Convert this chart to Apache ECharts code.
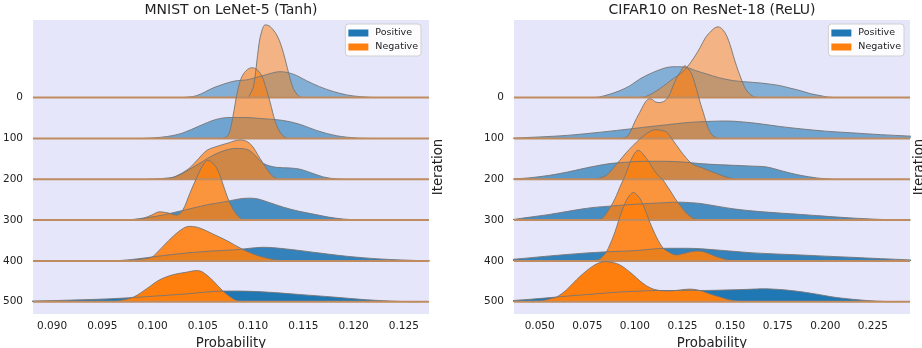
<!DOCTYPE html>
<html>
<head>
<meta charset="utf-8">
<script src="https://cdn.jsdelivr.net/npm/echarts@6/dist/echarts.min.js"></script>
<style>
html, body { margin: 0; padding: 0; background: #fff; }
#chart { width: 922px; height: 348px; }
</style>
</head>
<body>
<div id="chart"></div>
<script>
// ridges (one per iteration), top to bottom
const iterations = [0, 100, 200, 300, 400, 500];

// tick labels of the probability axes
const mnistTicks = [0.090, 0.095, 0.100, 0.105, 0.110, 0.115, 0.120, 0.125];
const cifarTicks = [0.050, 0.075, 0.100, 0.125, 0.150, 0.175, 0.200, 0.225];

// densities: [probability, height], 41 = one ridge step
const mnistPositive = [
    [[0.1030,0],[0.1044,2],[0.1061,10],[0.1081,16.5],[0.1095,18],[0.1113,23],[0.1127,26],[0.1140,23.5],[0.1153,17],[0.1166,11],[0.1180,6],[0.1193,2.7],[0.1206,1],[0.1220,0]],
    [[0.0990,0],[0.1000,0.5],[0.1015,2],[0.1030,5.5],[0.1047,12.7],[0.1063,19],[0.1077,21],[0.1092,21],[0.1107,20],[0.1130,18],[0.1147,14],[0.1163,8],[0.1183,2.7],[0.1203,0.4],[0.1215,0]],
    [[0.0995,0],[0.1010,0.8],[0.1024,3],[0.1040,12],[0.1050,18],[0.1060,24],[0.1072,29],[0.1083,31],[0.1095,29.5],[0.1103,23],[0.1110,16],[0.1123,12],[0.1137,11.3],[0.1147,10],[0.1157,6.7],[0.1170,2.3],[0.1183,0.3],[0.1190,0]],
    [[0.0975,0],[0.0995,2.5],[0.1010,5],[0.1025,8.5],[0.1040,12],[0.1055,15.5],[0.1070,18],[0.1085,21],[0.1095,22],[0.1102,21.7],[0.1115,18],[0.1130,13],[0.1145,9],[0.1160,6],[0.1175,3],[0.1190,1],[0.1205,0.2],[0.1212,0]],
    [[0.0962,0],[0.0980,1.5],[0.1000,4],[0.1020,6.5],[0.1040,8.5],[0.1060,10],[0.1080,11],[0.1095,12.5],[0.1110,13.7],[0.1133,12],[0.1160,8.7],[0.1193,4.7],[0.1226,2],[0.1260,0.5],[0.1280,0]],
    [[0.0860,0.3],[0.0881,0.7],[0.0931,2],[0.0964,3.3],[0.1000,5.5],[0.1035,8],[0.1070,10.7],[0.1087,10.7],[0.1113,9.7],[0.1146,7.3],[0.1180,4.7],[0.1213,2],[0.1246,0.3],[0.1265,0]]
];
const mnistNegative = [
    [[0.1095,0],[0.1100,10],[0.1103,30],[0.1106,55],[0.1109,68],[0.1112,73],[0.1116,72],[0.1120,68],[0.1124,62],[0.1128,52],[0.1132,38],[0.1136,22],[0.1140,9],[0.1144,3],[0.1148,0]],
    [[0.1070,0],[0.1075,3],[0.1078,12],[0.1081,28],[0.1084,45],[0.1088,60],[0.1093,68],[0.1099,71],[0.1104,69],[0.1109,62],[0.1113,50],[0.1117,36],[0.1122,17],[0.1127,6],[0.1132,1],[0.1136,0]],
    [[0.1010,0],[0.1017,0.7],[0.1027,5],[0.1037,11.5],[0.1046,21],[0.1054,29],[0.1064,33],[0.1074,36],[0.1087,39.5],[0.1097,35.7],[0.1107,20.7],[0.1117,5.7],[0.1123,0.7],[0.1128,0]],
    [[0.0980,0],[0.0990,1.5],[0.0999,5],[0.1007,8.3],[0.1016,7],[0.1024,5],[0.1030,10],[0.1037,26.7],[0.1044,43],[0.1050,55],[0.1055,60],[0.1060,57],[0.1065,50],[0.1072,30],[0.1077,16.7],[0.1084,5],[0.1090,0]],
    [[0.0975,0],[0.0981,1],[0.0990,2],[0.0999,3.7],[0.1005,9],[0.1011,15.3],[0.1021,25.3],[0.1031,33],[0.1037,34.7],[0.1047,33],[0.1060,27],[0.1074,20.3],[0.1087,13],[0.1100,7],[0.1113,3],[0.1127,0.3],[0.1132,0]],
    [[0.0960,0],[0.0964,0.5],[0.0981,4.7],[0.0994,13],[0.1007,22],[0.1021,27.3],[0.1034,29.7],[0.1044,31.3],[0.1050,29.7],[0.1060,21.3],[0.1070,10.7],[0.1080,3],[0.1087,0.3],[0.1092,0]]
];
const cifarPositive = [
    [[0.0780,0],[0.0815,0.7],[0.0870,3.5],[0.0921,7],[0.0975,12],[0.1026,18.7],[0.1080,24],[0.1131,28],[0.1175,30.5],[0.1219,31],[0.1272,30.3],[0.1320,27],[0.1377,23.7],[0.1440,20],[0.1517,17],[0.1590,15.7],[0.1657,14.7],[0.1710,13.5],[0.1762,12],[0.1815,9.5],[0.1868,7],[0.1920,4],[0.1973,2],[0.2010,0.7],[0.2050,0]],
    [[0.0350,0.2],[0.0365,0.3],[0.0500,1.5],[0.0641,3],[0.0780,5.5],[0.0904,8],[0.1040,11],[0.1167,13.7],[0.1280,16],[0.1377,17],[0.1482,17.5],[0.1570,16.5],[0.1657,14.7],[0.1760,12],[0.1868,9.7],[0.2000,7.3],[0.2131,5.7],[0.2290,3.8],[0.2446,2.3],[0.2470,2]],
    [[0.0350,0.2],[0.0365,0.3],[0.0450,1.5],[0.0553,4],[0.0640,7],[0.0728,10.7],[0.0800,13.5],[0.0868,15.7],[0.0950,17],[0.1044,18],[0.1150,18],[0.1254,17.3],[0.1342,15.7],[0.1430,14.7],[0.1517,14],[0.1600,13.3],[0.1693,12.3],[0.1760,9],[0.1820,6],[0.1868,4],[0.1956,1.3],[0.2040,0]],
    [[0.0340,0],[0.0365,0.7],[0.0450,3],[0.0553,5.7],[0.0640,8.5],[0.0728,11.3],[0.0800,13],[0.0868,14],[0.0970,15.5],[0.1079,16.7],[0.1160,17.5],[0.1237,18],[0.1290,17.5],[0.1342,16.7],[0.1430,14],[0.1517,11.3],[0.1600,9.5],[0.1693,8],[0.1780,6.8],[0.1868,5.7],[0.1955,4.5],[0.2043,3.3],[0.2130,2.2],[0.2219,1.3],[0.2300,0.6],[0.2394,0.3],[0.2450,0]],
    [[0.0340,1.5],[0.0365,1.7],[0.0553,5],[0.0728,7.7],[0.0860,9.2],[0.1000,10.3],[0.1167,12.7],[0.1272,12.7],[0.1430,11],[0.1605,8.3],[0.1740,7],[0.1868,6],[0.2000,4.8],[0.2131,3.7],[0.2290,2.3],[0.2446,1],[0.2470,0.8]],
    [[0.0340,1],[0.0365,1.3],[0.0465,2.7],[0.0588,4.7],[0.0700,6.5],[0.0800,8],[0.0900,9.5],[0.1000,10.5],[0.1131,11.3],[0.1240,11.3],[0.1342,11.3],[0.1517,12],[0.1600,12.5],[0.1675,13],[0.1760,12.3],[0.1833,11],[0.1900,9.3],[0.1973,7],[0.2050,4.5],[0.2131,2.7],[0.2220,1.2],[0.2306,0.3],[0.2380,0]]
];
const cifarNegative = [
    [[0.1000,0],[0.1044,0.5],[0.1090,4],[0.1131,9],[0.1167,14],[0.1201,19],[0.1240,24],[0.1272,30],[0.1310,40],[0.1342,50],[0.1370,60],[0.1394,65.5],[0.1420,70],[0.1438,71],[0.1460,68.5],[0.1482,62],[0.1500,53],[0.1517,42],[0.1535,31],[0.1552,22],[0.1575,11],[0.1596,5],[0.1620,1.3],[0.1645,0]],
    [[0.0930,0],[0.0956,1.5],[0.0975,6],[0.0991,13],[0.1008,20],[0.1026,26.3],[0.1044,33],[0.1061,38],[0.1075,39.7],[0.1087,39.5],[0.1110,36.5],[0.1131,36],[0.1150,37],[0.1167,39.5],[0.1185,45],[0.1201,53],[0.1220,61],[0.1237,66.3],[0.1263,73],[0.1280,70],[0.1298,64.7],[0.1315,55],[0.1333,43],[0.1346,34],[0.1359,26.3],[0.1373,17],[0.1386,9.7],[0.1403,4],[0.1421,1.3],[0.1440,0]],
    [[0.0790,0],[0.0820,1.5],[0.0851,4],[0.0886,11],[0.0921,19],[0.0956,27],[0.0991,34],[0.1026,40.5],[0.1061,45.7],[0.1090,49],[0.1114,49.7],[0.1140,49],[0.1167,47.3],[0.1193,41],[0.1219,34],[0.1254,25],[0.1289,17.3],[0.1315,14],[0.1342,12.3],[0.1385,9],[0.1430,5.7],[0.1475,2.5],[0.1517,0.5],[0.1540,0]],
    [[0.0800,0],[0.0816,0.5],[0.0833,2.5],[0.0851,7],[0.0868,12],[0.0886,18],[0.0904,25],[0.0921,33],[0.0940,41],[0.0956,48],[0.0975,58],[0.0995,66],[0.1017,70],[0.1040,67],[0.1060,62],[0.1079,57],[0.1100,50],[0.1131,43],[0.1149,40],[0.1166,35],[0.1184,30],[0.1210,22],[0.1237,15],[0.1263,8.5],[0.1289,4],[0.1315,1.2],[0.1342,0.3],[0.1360,0]],
    [[0.0760,0],[0.0781,0.3],[0.0800,1],[0.0816,2],[0.0833,5],[0.0851,9.3],[0.0868,16],[0.0886,24.3],[0.0904,34],[0.0921,44.3],[0.0938,53],[0.0956,61],[0.0975,66.5],[0.0991,68.7],[0.1008,67],[0.1026,62.7],[0.1044,56],[0.1061,47.7],[0.1078,39],[0.1096,31],[0.1113,24],[0.1131,17.7],[0.1150,12.5],[0.1175,9.3],[0.1197,7],[0.1219,6],[0.1245,7],[0.1272,8.3],[0.1300,9.5],[0.1333,10],[0.1365,9],[0.1394,7],[0.1425,4.5],[0.1455,2.7],[0.1490,1],[0.1517,0]],
    [[0.0460,0],[0.0490,0.5],[0.0518,1.3],[0.0555,3],[0.0588,4.7],[0.0615,8],[0.0641,12],[0.0675,18.5],[0.0711,25.3],[0.0745,31],[0.0781,36],[0.0815,39.3],[0.0851,40.3],[0.0886,39.3],[0.0921,37],[0.0956,32.5],[0.0991,27],[0.1026,21],[0.1061,16],[0.1096,12.7],[0.1131,11.3],[0.1166,10.8],[0.1201,11],[0.1245,12],[0.1289,12.7],[0.1325,12],[0.1359,10.3],[0.1400,7.5],[0.1447,4.7],[0.1490,2.2],[0.1534,0.7],[0.1570,0]]
];

const RIDGE = 41;
const FONT = 'DejaVu Sans';
const TEXT = '#222';
const xRanges = [[0.0881, 0.1275], [0.0365, 0.2445]];

function tickFormatter(ticks) {
    return v => {
        const t = ticks.find(t => Math.abs(t - v) < 1e-7);
        return t === undefined ? '' : t.toFixed(3);
    };
}

function ridgeSeries(panel, pos, neg) {
    const out = [];
    iterations.forEach((it, i) => {
        const alpha = 0.5 + 0.1 * i;
        [[pos[i], '31,119,180', 'Positive'], [neg[i], '255,127,14', 'Negative']].forEach(([curve, rgb, name]) => {
            out.push({
                type: 'line', name: name,
                xAxisIndex: panel, yAxisIndex: panel,
                data: curve.map(p => [p[0], -i + p[1] / RIDGE]),
                smooth: 0.35, symbol: 'none', silent: true,
                lineStyle: { color: 'rgba(118,118,118,0.9)', width: 1 },
                areaStyle: { color: 'rgba(' + rgb + ',' + alpha + ')', origin: -i, opacity: 1 }
            });
        });
        // baseline of the ridge
        out.push({
            type: 'line', xAxisIndex: panel, yAxisIndex: panel,
            data: [[xRanges[panel][0], -i], [xRanges[panel][1], -i]],
            symbol: 'none', silent: true,
            lineStyle: { color: '#bf8b5f', width: 2 }
        });
    });
    return out;
}

const legendData = [
    { name: 'Positive', itemStyle: { color: '#1f77b4', borderWidth: 0 } },
    { name: 'Negative', itemStyle: { color: '#ff7f0e', borderWidth: 0 } }
];
function legend(right) {
    return {
        data: legendData, orient: 'vertical', right: right, top: 24,
        icon: 'rect', itemWidth: 20, itemHeight: 7, itemGap: 4,
        selectedMode: false,
        padding: [4, 3, 4, 3],
        backgroundColor: 'rgba(255,255,255,0.85)',
        borderColor: '#d0d0d0', borderWidth: 1, borderRadius: 3,
        textStyle: { fontFamily: FONT, fontSize: 9.5, color: TEXT, lineHeight: 10, padding: [0, 0, 0, 2] }
    };
}

function xAxis(panel, ticks, interval) {
    return {
        type: 'value', gridIndex: panel,
        min: xRanges[panel][0], max: xRanges[panel][1], interval: interval,
        name: 'Probability', nameLocation: 'middle', nameGap: 18,
        nameTextStyle: { fontFamily: FONT, fontSize: 13.3, color: TEXT },
        axisLine: { show: false }, axisTick: { show: false }, splitLine: { show: false },
        axisLabel: { fontFamily: FONT, fontSize: 10.5, color: TEXT, margin: 7, formatter: tickFormatter(ticks) }
    };
}

function yAxis(panel) {
    return {
        type: 'value', gridIndex: panel,
        min: -5.3, max: 1.9, interval: 0.1,
        axisLine: { show: false }, axisTick: { show: false }, splitLine: { show: false },
        axisLabel: {
            fontFamily: FONT, fontSize: 10.5, color: TEXT, margin: 10,
            formatter: v => {
                const k = Math.round(-v);
                return (Math.abs(v + k) < 1e-6 && k >= 0 && k < iterations.length) ? String(iterations[k]) : '';
            }
        }
    };
}

function label(x, y, text, size, rot) {
    return {
        type: 'text', x: x, y: y, rotation: rot || 0, silent: true,
        style: {
            text: text, font: size + 'px "' + FONT + '"', fill: TEXT,
            align: 'center', verticalAlign: 'middle',
            textAlign: 'center', textVerticalAlign: 'middle'
        }
    };
}

const gridBase = { top: 20, width: 396, height: 294, show: true, backgroundColor: '#e6e6fa', borderWidth: 0, containLabel: false, outerBoundsMode: 'none' };

const chart = echarts.init(document.getElementById('chart'));
chart.setOption({
    animation: false,
    grid: [
        Object.assign({ left: 33 }, gridBase),
        Object.assign({ left: 514 }, gridBase)
    ],
    xAxis: [xAxis(0, mnistTicks, 0.0001), xAxis(1, cifarTicks, 0.0005)],
    yAxis: [yAxis(0), yAxis(1)],
    legend: [legend(501), legend(18)],
    graphic: [
        label(231, 10, 'MNIST on LeNet-5 (Tanh)', 14),
        label(712, 10, 'CIFAR10 on ResNet-18 (ReLU)', 14),
        label(439, 167, 'Iteration', 13.3, Math.PI / 2),
        label(920, 167, 'Iteration', 13.3, Math.PI / 2)
    ],
    series: ridgeSeries(0, mnistPositive, mnistNegative).concat(ridgeSeries(1, cifarPositive, cifarNegative))
});
</script>
</body>
</html>
